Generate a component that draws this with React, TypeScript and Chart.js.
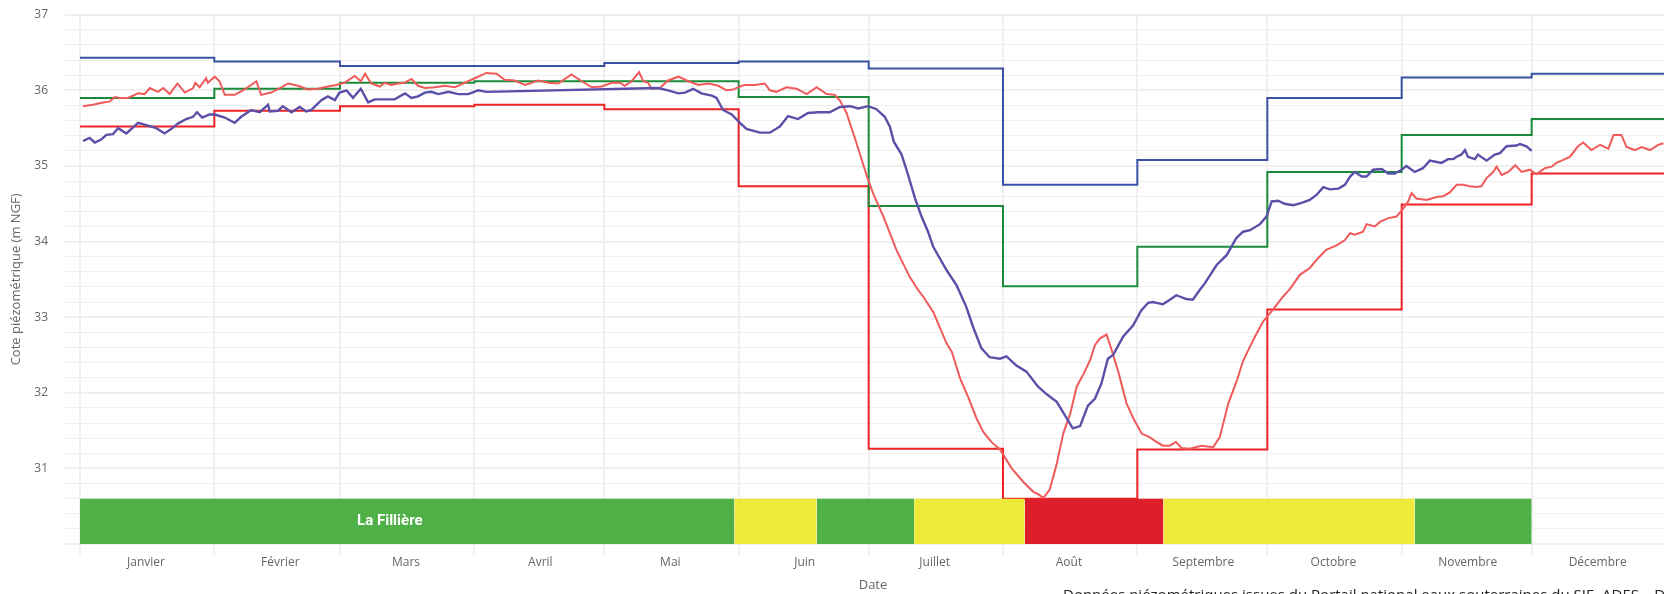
import React, { useEffect, useRef } from 'react';
import { Chart, registerables } from 'chart.js';

Chart.register(...registerables);

// ---- Axis / categories ----
const monthLabels = ['Janvier', 'Février', 'Mars', 'Avril', 'Mai', 'Juin', 'Juillet', 'Août', 'Septembre', 'Octobre', 'Novembre', 'Décembre'];
const monthStartDays = [0, 31, 60, 91, 121, 152, 182, 213, 244, 274, 305, 335];
const yearEndDay = 366;
const yMin = 30;
const yMax = 37;

// ---- Monthly threshold steps (value for each month) ----
const seuilBleu = [36.43, 36.38, 36.32, 36.32, 36.36, 36.38, 36.29, 34.75, 35.08, 35.90, 36.17, 36.22];
const seuilVert = [35.90, 36.02, 36.10, 36.12, 36.12, 35.91, 34.47, 33.41, 33.93, 34.92, 35.41, 35.62];
const seuilRouge = [35.52, 35.73, 35.79, 35.81, 35.75, 34.73, 31.26, 30.60, 31.25, 33.10, 34.49, 34.90];

// ---- Observed level (purple) ----
const violetDays = [0.7, 2.2, 3.4, 4.9, 6.1, 7.6, 8.8, 10.7, 13.4, 15.3, 17.6, 19.5, 21.1, 22.6, 24.5, 26.1, 27.0, 28.2, 29.9, 31.1, 33.4, 35.7, 37.2, 39.5, 41.5, 43.4, 43.8, 45.7, 46.8, 48.8, 50.7, 52.2, 53.4, 55.7, 57.2, 58.8, 59.9, 61.5, 63.0, 64.8, 66.5, 68.0, 69.6, 72.6, 75.0, 76.5, 78.0, 79.6, 81.1, 82.7, 85.0, 87.3, 89.6, 91.9, 93.8, 133.4, 135.7, 138.1, 139.6, 141.5, 143.4, 145.8, 146.9, 148.4, 150.4, 152.3, 153.8, 156.9, 159.2, 161.5, 163.4, 165.7, 168.0, 170.3, 173.0, 175.4, 177.7, 179.6, 181.9, 183.8, 185.7, 186.9, 187.8, 189.6, 191.1, 192.7, 194.2, 195.7, 196.9, 200.0, 202.3, 204.5, 206.1, 208.0, 209.9, 212.3, 213.8, 216.1, 218.4, 221.1, 223.1, 225.4, 227.3, 229.1, 230.8, 232.6, 234.2, 235.7, 237.2, 238.4, 240.7, 243.0, 244.9, 246.5, 247.6, 249.9, 251.5, 253.0, 255.3, 256.8, 258.4, 259.6, 262.3, 264.6, 266.9, 268.4, 270.0, 272.3, 273.8, 275.0, 276.5, 278.0, 280.0, 281.9, 283.8, 285.4, 286.9, 288.4, 290.4, 291.9, 293.1, 294.2, 295.8, 296.9, 298.4, 300.4, 301.9, 303.4, 305.0, 306.1, 308.0, 309.9, 311.5, 314.2, 315.7, 316.9, 318.0, 318.8, 319.6, 320.3, 321.9, 322.6, 324.6, 326.5, 327.7, 329.2, 331.5, 332.3, 333.8, 335.0];
const violetValues = [35.33, 35.37, 35.31, 35.35, 35.41, 35.42, 35.50, 35.43, 35.57, 35.54, 35.50, 35.43, 35.49, 35.56, 35.62, 35.65, 35.71, 35.64, 35.68, 35.68, 35.64, 35.57, 35.65, 35.74, 35.71, 35.81, 35.72, 35.73, 35.79, 35.71, 35.78, 35.72, 35.74, 35.87, 35.92, 35.87, 35.97, 36.00, 35.90, 36.02, 35.84, 35.88, 35.88, 35.88, 35.96, 35.90, 35.92, 35.97, 35.98, 35.95, 35.98, 35.95, 35.95, 36.00, 35.98, 36.03, 36.00, 35.96, 35.97, 36.02, 35.96, 35.93, 35.90, 35.74, 35.68, 35.57, 35.49, 35.44, 35.44, 35.52, 35.66, 35.62, 35.70, 35.71, 35.71, 35.78, 35.79, 35.76, 35.79, 35.75, 35.65, 35.52, 35.32, 35.15, 34.88, 34.57, 34.33, 34.13, 33.93, 33.62, 33.42, 33.14, 32.87, 32.59, 32.47, 32.45, 32.48, 32.36, 32.28, 32.08, 31.98, 31.88, 31.70, 31.53, 31.56, 31.83, 31.92, 32.12, 32.45, 32.50, 32.74, 32.89, 33.09, 33.19, 33.20, 33.17, 33.23, 33.29, 33.24, 33.23, 33.36, 33.45, 33.69, 33.82, 34.05, 34.13, 34.15, 34.23, 34.33, 34.53, 34.54, 34.50, 34.48, 34.51, 34.55, 34.62, 34.72, 34.69, 34.70, 34.75, 34.86, 34.92, 34.86, 34.86, 34.95, 34.96, 34.90, 34.90, 34.95, 35.00, 34.92, 34.97, 35.07, 35.04, 35.09, 35.09, 35.13, 35.15, 35.21, 35.12, 35.09, 35.15, 35.07, 35.15, 35.17, 35.26, 35.27, 35.29, 35.26, 35.20];

// ---- Observed level (salmon) ----
const saumonDays = [0.7, 3.0, 5.3, 6.8, 8.0, 9.2, 11.1, 13.4, 14.9, 16.1, 18.0, 19.2, 20.7, 22.5, 24.2, 26.1, 26.6, 27.6, 29.1, 29.5, 31.1, 32.2, 33.4, 35.7, 37.6, 39.5, 40.7, 41.8, 44.1, 46.5, 48.0, 50.3, 52.6, 54.9, 57.2, 59.1, 61.0, 63.4, 64.8, 65.8, 67.2, 69.2, 70.3, 71.8, 73.4, 74.9, 76.5, 78.0, 79.6, 81.9, 84.2, 86.5, 88.8, 91.1, 93.8, 96.1, 98.0, 100.3, 102.7, 105.7, 108.1, 110.4, 113.4, 115.8, 118.1, 120.4, 122.7, 124.6, 125.7, 127.3, 129.0, 130.0, 131.1, 131.9, 133.8, 135.7, 138.1, 140.4, 142.7, 145.0, 147.3, 149.2, 150.7, 152.3, 153.4, 155.7, 158.0, 159.2, 160.7, 163.0, 165.4, 167.7, 170.0, 172.3, 174.2, 175.4, 176.9, 179.2, 181.5, 183.0, 185.4, 188.4, 191.5, 193.4, 194.6, 196.9, 200.0, 201.2, 203.1, 205.0, 206.9, 208.5, 210.3, 212.3, 215.0, 217.7, 220.0, 221.1, 222.3, 223.8, 225.4, 226.9, 228.5, 230.0, 231.6, 233.1, 234.2, 235.4, 236.9, 238.1, 239.6, 241.5, 243.1, 245.0, 246.9, 248.4, 249.9, 251.5, 252.9, 254.2, 256.1, 258.8, 261.5, 263.0, 265.0, 266.9, 268.4, 270.0, 271.5, 273.0, 275.3, 277.6, 279.2, 281.5, 283.8, 285.7, 287.6, 290.0, 291.9, 293.1, 294.2, 296.1, 296.9, 298.8, 300.0, 301.9, 303.8, 305.4, 306.5, 307.3, 308.4, 310.7, 313.1, 314.6, 316.1, 317.7, 319.2, 320.7, 322.3, 323.4, 324.6, 326.1, 326.9, 328.1, 329.6, 331.2, 332.7, 334.6, 336.1, 338.0, 339.6, 340.7, 342.3, 343.8, 345.7, 346.9, 348.8, 350.8, 352.7, 353.9, 355.7, 356.9, 358.8, 360.4, 362.3, 364.3, 365.4];
const saumonValues = [35.79, 35.81, 35.84, 35.85, 35.91, 35.90, 35.90, 35.96, 35.95, 36.03, 35.98, 36.03, 35.95, 36.09, 35.97, 36.03, 36.10, 36.04, 36.16, 36.10, 36.18, 36.12, 35.94, 35.94, 36.00, 36.07, 36.12, 35.94, 35.97, 36.04, 36.09, 36.06, 36.01, 36.02, 36.05, 36.07, 36.10, 36.19, 36.12, 36.22, 36.09, 36.05, 36.10, 36.07, 36.09, 36.10, 36.15, 36.06, 36.03, 36.04, 36.06, 36.04, 36.10, 36.16, 36.23, 36.22, 36.14, 36.13, 36.07, 36.13, 36.10, 36.09, 36.21, 36.12, 36.04, 36.05, 36.10, 36.10, 36.06, 36.12, 36.24, 36.12, 36.10, 36.02, 36.03, 36.13, 36.18, 36.12, 36.07, 36.09, 36.06, 36.00, 36.01, 36.05, 36.07, 36.07, 36.09, 36.00, 35.98, 36.04, 36.02, 35.95, 36.04, 35.95, 35.94, 35.86, 35.70, 35.30, 34.88, 34.64, 34.33, 33.89, 33.53, 33.36, 33.27, 33.07, 32.65, 32.54, 32.19, 31.94, 31.66, 31.48, 31.35, 31.25, 31.00, 30.82, 30.69, 30.66, 30.61, 30.72, 31.06, 31.46, 31.72, 32.08, 32.25, 32.43, 32.63, 32.72, 32.77, 32.56, 32.28, 31.86, 31.66, 31.46, 31.41, 31.35, 31.30, 31.30, 31.35, 31.27, 31.26, 31.30, 31.28, 31.41, 31.86, 32.15, 32.42, 32.61, 32.78, 32.94, 33.10, 33.27, 33.37, 33.56, 33.65, 33.78, 33.89, 33.95, 34.02, 34.11, 34.09, 34.13, 34.23, 34.20, 34.26, 34.31, 34.33, 34.44, 34.53, 34.64, 34.57, 34.55, 34.59, 34.60, 34.65, 34.75, 34.75, 34.73, 34.72, 34.73, 34.84, 34.92, 34.99, 34.88, 34.92, 35.01, 34.92, 34.95, 34.89, 34.97, 34.99, 35.04, 35.08, 35.12, 35.26, 35.31, 35.21, 35.28, 35.23, 35.41, 35.41, 35.25, 35.21, 35.25, 35.21, 35.28, 35.30];

// ---- Restriction band (La Fillière) ----
const bandName = 'La Fillière';
const bandStartDays = [0, 151, 170, 192.5, 218, 250, 308];
const bandEndDays = [151, 170, 192.5, 218, 250, 308, 335];
const bandLevels = ['vigilance0', 'vigilance', 'vigilance0', 'vigilance', 'alerte', 'vigilance', 'vigilance0'];
const bandTop = 30.6;
const bandLabelDay = 71.5;

const levelColors: Record<string, string> = {
  vigilance0: '#50b048',
  vigilance: '#efe93a',
  alerte: '#dd1f2b',
};

const FONT = "'Open Sans', sans-serif";

function stepData(values: number[]) {
  const pts = monthStartDays.map((d, i) => ({ x: d, y: values[i] }));
  pts.push({ x: yearEndDay, y: values[values.length - 1] });
  return pts;
}

function seriesData(days: number[], values: number[]) {
  return days.map((d, i) => ({ x: d, y: values[i] }));
}

const isInt = (v: number) => Math.abs(v - Math.round(v)) < 1e-6;

const bandLabelPlugin = {
  id: 'bandLabel',
  afterDatasetsDraw(chart: any) {
    const { ctx, scales } = chart;
    const x = scales.x;
    const y = scales.y;
    ctx.save();
    ctx.font = "bold 15px Roboto, 'Open Sans', sans-serif";
    ctx.fillStyle = '#ffffff';
    ctx.textAlign = 'center';
    ctx.textBaseline = 'middle';
    ctx.fillText(bandName, x.getPixelForValue(bandLabelDay), y.getPixelForValue((yMin + bandTop) / 2));
    ctx.restore();
  },
};

export default function App() {
  const canvasRef = useRef<HTMLCanvasElement | null>(null);

  useEffect(() => {
    document.body.style.margin = '0';
    document.body.style.overflow = 'hidden';
    const canvas = canvasRef.current;
    if (!canvas) return;

    const bandDatasets = bandStartDays.map((s, i) => ({
      type: 'line' as const,
      data: [
        { x: s, y: bandTop },
        { x: bandEndDays[i], y: bandTop },
      ],
      fill: 'start',
      backgroundColor: levelColors[bandLevels[i]],
      borderColor: 'rgba(0,0,0,0)',
      borderWidth: 0,
      pointRadius: 0,
      order: 0,
    }));

    const lineDs = (data: any[], color: string, width: number, order: number, stepped: any = false) => ({
      type: 'line' as const,
      data,
      borderColor: color,
      backgroundColor: color,
      borderWidth: width,
      pointRadius: 0,
      fill: false,
      stepped,
      tension: 0,
      order,
    });

    const chart = new Chart(canvas, {
      type: 'line',
      data: {
        datasets: [
          ...bandDatasets,
          lineDs(seriesData(violetDays, violetValues), '#5b50a8', 2.4, 1),
          lineDs(seriesData(saumonDays, saumonValues), '#f05a5a', 2, 2),
          lineDs(stepData(seuilBleu), '#3a52a5', 2, 3, 'before'),
          lineDs(stepData(seuilVert), '#1b8a3a', 2, 3, 'before'),
          lineDs(stepData(seuilRouge), '#ee2424', 2, 3, 'before'),
        ] as any,
      },
      options: {
        animation: false,
        responsive: false,
        devicePixelRatio: 1,
        layout: { padding: { left: 4, top: 14.7, right: 0, bottom: 0 } },
        plugins: {
          legend: { display: false },
          tooltip: { enabled: false },
        },
        scales: {
          x: {
            type: 'linear',
            min: 0,
            max: yearEndDay,
            afterBuildTicks: (s: any) => {
              s.ticks = monthStartDays.map((v) => ({ value: v }));
            },
            ticks: {
              autoSkip: false,
              maxRotation: 0,
              minRotation: 0,
              labelOffset: 66,
              padding: 0,
              color: '#666666',
              font: { family: FONT, size: 12 },
              callback: (_v: any, i: number) => monthLabels[i],
            },
            grid: { color: '#f0f0f0', lineWidth: 2, tickLength: 11, drawTicks: true },
            border: { display: false },
            title: {
              display: true,
              text: 'Date',
              color: '#666666',
              font: { family: FONT, size: 13 },
              padding: { top: 8, bottom: 1 },
            },
          },
          y: {
            type: 'linear',
            min: yMin,
            max: yMax,
            afterFit: (s: any) => {
              s.width = 76;
              s.paddingTop = 0;
              s.paddingBottom = 0;
            },
            ticks: {
              stepSize: 0.2,
              autoSkip: false,
              padding: 17,
              color: '#666666',
              font: { family: FONT, size: 12 },
              callback: (v: any) => (isInt(Number(v)) && Number(v) > yMin + 0.5 ? String(Math.round(Number(v))) : ''),
            },
            grid: {
              color: '#efefef',
              lineWidth: (ctx: any) => (ctx.tick && isInt(ctx.tick.value) ? 2 : 1),
              tickLength: 15,
            },
            border: { display: false },
            title: {
              display: true,
              text: 'Cote piézométrique (m NGF)',
              color: '#666666',
              font: { family: FONT, size: 13 },
              padding: 4,
            },
          },
        },
      } as any,
      plugins: [bandLabelPlugin],
    });

    return () => chart.destroy();
  }, []);

  return (
    <div style={{ position: 'relative', width: 1664, height: 594, overflow: 'hidden', background: '#fff' }}>
      <canvas ref={canvasRef} width={1666} height={594} style={{ position: 'absolute', left: 0, top: 0, width: 1666, height: 594 }} />
      <div
        style={{
          position: 'absolute',
          left: 1063,
          top: 584,
          whiteSpace: 'nowrap',
          fontFamily: FONT,
          fontSize: 15,
          color: '#222',
        }}
      >
        Données piézométriques issues du Portail national eaux souterraines du SIE. ADES – Données de restriction
      </div>
    </div>
  );
}
